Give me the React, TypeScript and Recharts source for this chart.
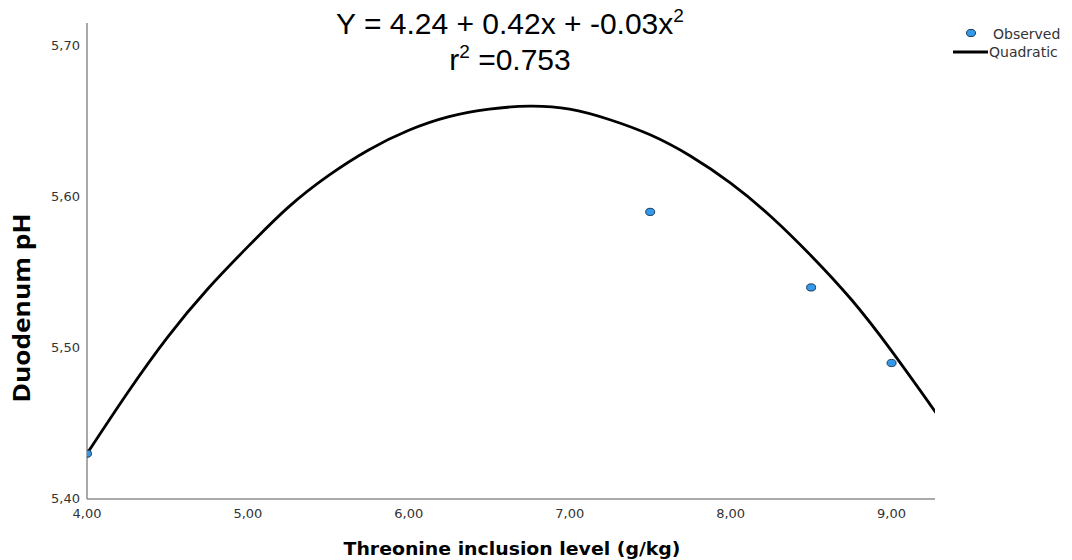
import React from 'react';
import {
  ComposedChart,
  Line,
  Scatter,
  XAxis,
  YAxis,
} from 'recharts';

const X_TICKS = [4, 5, 6, 7, 8, 9];
const Y_TICKS = [5.4, 5.5, 5.6, 5.7];

// observed means
const OBS_X = [4.0, 7.5, 8.5, 9.0];
const OBS_Y = [5.43, 5.59, 5.54, 5.49];

// fitted quadratic curve
const FIT_X = [4.0, 4.25, 4.5, 4.75, 5.0, 5.25, 5.5, 5.75, 6.0, 6.25, 6.5, 6.75, 7.0, 7.25, 7.5, 7.75, 8.0, 8.25, 8.5, 8.75, 9.0, 9.25, 9.27];
const FIT_Y = [5.43, 5.47, 5.507, 5.539, 5.567, 5.593, 5.614, 5.631, 5.644, 5.653, 5.658, 5.66, 5.658, 5.651, 5.641, 5.627, 5.609, 5.587, 5.561, 5.532, 5.498, 5.461, 5.458];

const observed = OBS_X.map((x, i) => ({ x, y: OBS_Y[i] }));
const fitted = FIT_X.map((x, i) => ({ x, y: FIT_Y[i] }));

const fmt = (v: number) => v.toFixed(2).replace('.', ',');
const TICK_FONT = '"DejaVu Sans", sans-serif';

const Dot = (props: any) => {
  const { cx, cy } = props;
  if (cx == null || cy == null) return null;
  return <ellipse cx={cx} cy={cy} rx={4.5} ry={3.6} fill="#3399e8" stroke="#1d3c5c" strokeWidth={1} />;
};

const YTick = (props: any) => {
  const { x, y, payload } = props;
  return (
    <text x={x} y={y + 4} textAnchor="end" fontSize={13} fill="#333" fontFamily={TICK_FONT}>
      {fmt(payload.value)}
    </text>
  );
};

const XTick = (props: any) => {
  const { x, y, payload } = props;
  return (
    <text x={x} y={y + 17} textAnchor="middle" fontSize={13} fill="#333" fontFamily={TICK_FONT}>
      {fmt(payload.value)}
    </text>
  );
};

export default function App() {
  return (
    <div style={{ position: 'absolute', left: 0, top: 0, width: 1072, height: 560, background: '#fff' }}>
      <ComposedChart width={1072} height={560} margin={{ top: 23, right: 137, bottom: 0, left: 0 }}>
        <XAxis
          type="number"
          dataKey="x"
          domain={[4, 9.27]}
          ticks={X_TICKS}
          allowDataOverflow
          tickLine={false}
          tickSize={0}
          height={61}
          axisLine={{ stroke: '#8c8c8c', strokeWidth: 1.5 }}
          tick={<XTick />}
        />
        <YAxis
          type="number"
          dataKey="y"
          domain={[5.4, 5.715]}
          ticks={Y_TICKS}
          allowDataOverflow
          tickLine={false}
          tickSize={0}
          tickMargin={7}
          width={87}
          axisLine={{ stroke: '#8c8c8c', strokeWidth: 1.5 }}
          tick={<YTick />}
        />
        <Line
          data={fitted}
          dataKey="y"
          type="natural"
          stroke="#000"
          strokeWidth={2.8}
          dot={false}
          activeDot={false}
          isAnimationActive={false}
        />
        <Scatter data={observed} dataKey="y" shape={<Dot />} isAnimationActive={false} />
      </ComposedChart>

      <svg width={1072} height={560} style={{ position: 'absolute', left: 0, top: 0, pointerEvents: 'none' }}>
        <g fontFamily='"Liberation Sans", Arial, sans-serif' fill="#000">
          <text x={510} y={34} textAnchor="middle" fontSize={30}>
            Y = 4.24 + 0.42x + -0.03x<tspan fontSize={19} dy={-12}>2</tspan>
          </text>
          <text x={510} y={70} textAnchor="middle" fontSize={30}>
            r<tspan fontSize={19} dy={-12}>2</tspan>
            <tspan dy={12}> =0.753</tspan>
          </text>
        </g>
        <text
          x={512}
          y={555}
          textAnchor="middle"
          fontSize={17}
          fontWeight={700}
          fontFamily='"DejaVu Sans", sans-serif'
          textLength={337}
          lengthAdjust="spacingAndGlyphs"
        >
          Threonine inclusion level (g/kg)
        </text>
        <text
          transform="translate(30,308) rotate(-90)"
          textAnchor="middle"
          fontSize={23}
          fontWeight={700}
          fontFamily='"Open Sans", sans-serif'
          textLength={189}
          lengthAdjust="spacingAndGlyphs"
        >
          Duodenum pH
        </text>
        <g fontFamily={TICK_FONT} fontSize={14} fill="#333">
          <ellipse cx={971} cy={33} rx={4.5} ry={3.6} fill="#3399e8" stroke="#1d3c5c" strokeWidth={1} />
          <text x={993} y={39}>Observed</text>
          <line x1={953} x2={988} y1={52} y2={52} stroke="#000" strokeWidth={2.8} />
          <text x={989} y={57}>Quadratic</text>
        </g>
      </svg>
    </div>
  );
}
